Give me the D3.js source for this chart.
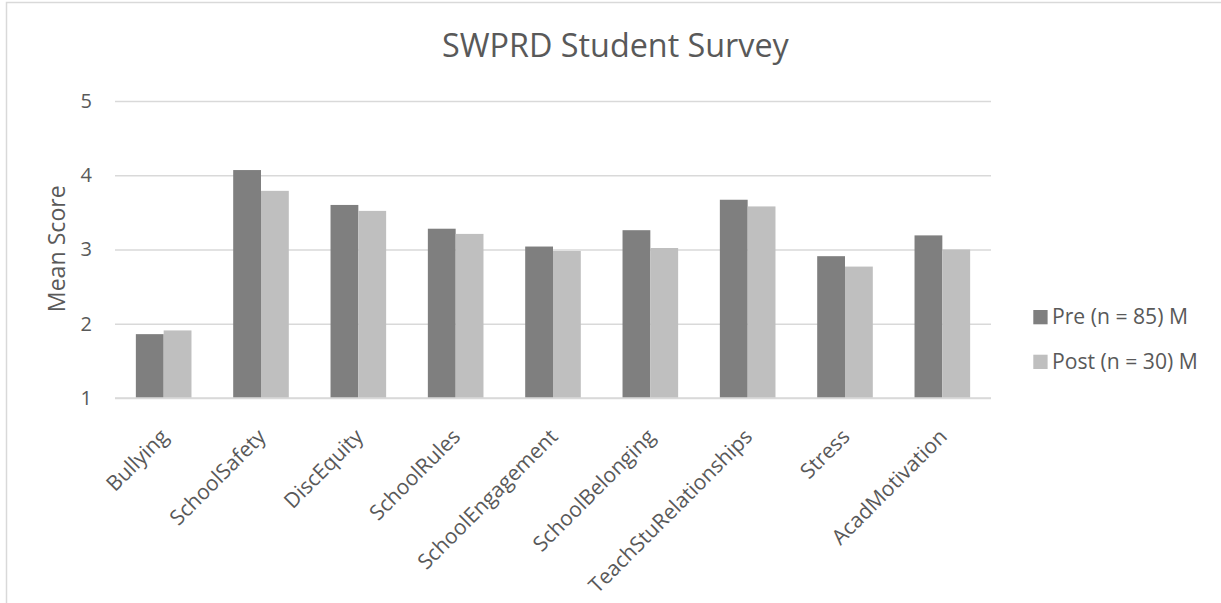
<!DOCTYPE html>
<html>
<head>
<meta charset="utf-8">
<script src="https://cdn.jsdelivr.net/npm/d3@7"></script>
<style>
  html, body { margin: 0; padding: 0; background: #ffffff; }
  svg { display: block; }
  text { font-family: "Open Sans", "Noto Sans", sans-serif; fill: #595959; }
</style>
</head>
<body>
<script>
// Survey scales and mean scores
const categories = ["Bullying", "SchoolSafety", "DiscEquity", "SchoolRules", "SchoolEngagement",
  "SchoolBelonging", "TeachStuRelationships", "Stress", "AcadMotivation"];
const preValues  = [1.86, 4.07, 3.60, 3.28, 3.04, 3.26, 3.67, 2.91, 3.19];
const postValues = [1.91, 3.79, 3.52, 3.21, 2.98, 3.02, 3.58, 2.77, 3.00];
const seriesNames = ["Pre (n = 85) M", "Post (n = 30) M"];
const yTicks = [1, 2, 3, 4, 5];
const titleText = "SWPRD Student Survey";
const yAxisTitle = "Mean Score";

const W = 1221, H = 603;
const colors = ["#7f7f7f", "#bfbfbf"];
const plot = { left: 115, right: 991, top: 101, bottom: 398 };
const FONT = '"Open Sans", sans-serif';

const svg = d3.select("body").append("svg").attr("width", W).attr("height", H);

// chart frame
svg.append("path")
  .attr("d", `M6.5,${H} V2.5 H${W}`)
  .attr("fill", "none").attr("stroke", "#d9d9d9").attr("stroke-width", 1.5);

const x0 = d3.scaleBand().domain(categories).range([plot.left, plot.right]);
const bw = x0.bandwidth() / 3.5;  // two bars plus a 150% gap
const y = d3.scaleLinear().domain([1, 5]).range([plot.bottom, plot.top]);

// gridlines and value labels
const yAxis = d3.axisLeft(y).tickValues(yTicks).tickSize(-(plot.right - plot.left)).tickPadding(23).tickFormat(d3.format("d"));
const gy = svg.append("g").attr("transform", `translate(${plot.left},0)`).call(yAxis);
gy.select(".domain").remove();
gy.selectAll(".tick line").attr("stroke", "#d9d9d9").attr("stroke-width", 1.4);
gy.selectAll(".tick text").style("font-size", "20px").attr("fill", "#595959").style("font-family", FONT);

// bars
const series = [preValues, postValues];
series.forEach((vals, si) => {
  svg.append("g").selectAll("rect").data(categories).join("rect")
    .attr("x", d => x0(d) + (x0.bandwidth() - 2 * bw) / 2 + si * bw)
    .attr("width", bw)
    .attr("y", (d, i) => y(vals[i]))
    .attr("height", (d, i) => y(1) - y(vals[i]))
    .attr("fill", colors[si]);
});

// category labels
const gx = svg.append("g").attr("transform", `translate(0,${plot.bottom})`)
  .call(d3.axisBottom(x0).tickSize(0).tickPadding(0));
gx.select(".domain").attr("stroke", "#d9d9d9").attr("stroke-width", 1.4).attr("d", `M${plot.left},0H${plot.right}`);
gx.selectAll(".tick text")
  .style("font-size", "21px").style("font-family", FONT).attr("fill", "#595959")
  .attr("text-anchor", "end").attr("dy", 0).attr("y", 0)
  .attr("transform", "translate(6,40) rotate(-45)");

// fit a text element to a given width
function fitWidth(sel, target) {
  const n = sel.node();
  const fs = parseFloat(sel.style("font-size"));
  const w = n.getComputedTextLength();
  sel.style("font-size", (fs * target / w).toFixed(2) + "px");
}

// title
const t = svg.append("text").attr("x", 615.4).attr("y", 56.7).attr("text-anchor", "middle")
  .style("font-size", "30px").text(titleText);
fitWidth(t, 347);

// y axis title
const yt = svg.append("text").attr("transform", "translate(65,248.7) rotate(-90)")
  .attr("text-anchor", "middle").style("font-size", "22px").text(yAxisTitle);
fitWidth(yt, 127);

// legend
const legend = svg.append("g");
const legendY = [324.3, 369];
seriesNames.forEach((name, i) => {
  legend.append("rect").attr("x", 1033.3).attr("y", legendY[i] - 14.3).attr("width", 14.3).attr("height", 14.3)
    .attr("fill", colors[i]);
  const lt = legend.append("text").attr("x", 1052).attr("y", legendY[i]).style("font-size", "19px").text(name);
  if (i === 0) fitWidth(lt, 136);
  else lt.style("font-size", legend.select("text").style("font-size"));
});
</script>
</body>
</html>
